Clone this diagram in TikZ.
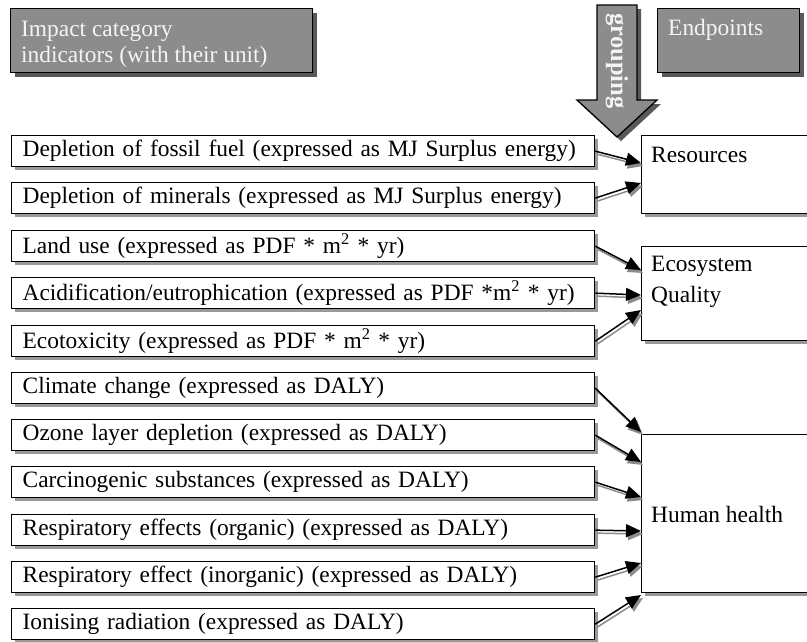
\documentclass[tikz,border=0pt]{standalone}
\usepackage{fontspec}
\setmainfont{Liberation Serif}
\usetikzlibrary{arrows.meta,shadows,calc}

\definecolor{headfill}{HTML}{8C8C8C}
\definecolor{headtext}{HTML}{F4F4F4}

\tikzset{
  boxshadow/.style={drop shadow={shadow xshift=3pt,shadow yshift=-3pt,fill=black!40,opacity=1}},
  headshadow/.style={drop shadow={shadow xshift=4pt,shadow yshift=-4pt,fill=black!65,opacity=1}},
  txt/.style={font=\fontsize{23.4}{26}\selectfont},
  indbox/.style={draw,line width=1.3pt,fill=white,boxshadow,anchor=north west,
    minimum width=583pt,minimum height=31pt,text width=561pt,align=left,
    inner xsep=11pt,inner ysep=0pt,txt},
  endbox/.style={draw,line width=1.3pt,fill=white,boxshadow,anchor=north west,
    minimum width=220pt,inner sep=0pt},
  headbox/.style={draw,line width=1.3pt,fill=headfill,headshadow,anchor=north west,inner sep=0pt},
  headlabel/.style={txt,text=headtext,inner sep=0pt,align=left},
  endlabel/.style={font=\fontsize{23.4}{31}\selectfont,inner sep=0pt,align=left},
  conn/.style={draw=black,line width=1.5pt,-{Triangle[length=15pt,width=13pt]}},
  connshade/.style={draw=black!45,line width=1.5pt,-{Triangle[length=15pt,width=13pt]},
    fill=black!45,transform canvas={shift={(2pt,-3pt)}}},
}

\begin{document}
\begin{tikzpicture}[x=1pt,y=-1pt]
\useasboundingbox (0,0) rectangle (807,641);
\clip (0,0) rectangle (807,641);

% header boxes
\node (hdind) [headbox,minimum width=302pt,minimum height=64pt] at (10,8) {};
\node (hdindtxt) [headlabel,anchor=north west] at (21,21) {Impact category\\indicators (with their unit)};
\node (hdend) [headbox,minimum width=142pt,minimum height=64pt] at (657,8) {};
\node (hdendtxt) [headlabel,anchor=base west] at (668,35) {Endpoints};

% grouping arrow
\path[fill=headfill,draw=black,line width=1.3pt,headshadow]
  (597,5) -- (637,5) -- (637,100) -- (657,100) -- (617,137) -- (577,100) -- (597,100) -- cycle;
\node (grp) [text=headtext,font=\fontsize{24.5}{26}\selectfont\bfseries,rotate=-90,inner sep=0pt] at (617,61) {grouping};

% endpoint boxes
\node (res) [endbox,minimum height=78pt] at (641,135) {};
\node (restxt) [endlabel,anchor=base west] at (651,162) {Resources};
\node (eco) [endbox,minimum height=94pt] at (641,246) {};
\node (ecotxt) [endlabel,anchor=north west] at (651,256) {Ecosystem\\Quality};
\node (hh) [endbox,minimum height=158pt] at (641,434) {};
\node (hhtxt) [endlabel,anchor=west] at (651,514) {Human health};

% impact category indicators
\node (b1)  [indbox] at (11,135) {Depletion of fossil fuel (expressed as MJ Surplus energy)};
\node (b2)  [indbox] at (11,182) {Depletion of minerals (expressed as MJ Surplus energy)};
\node (b3)  [indbox] at (11,230) {Land use (expressed as PDF * m\textsuperscript{2} * yr)};
\node (b4)  [indbox] at (11,277) {Acidification/eutrophication (expressed as PDF *m\textsuperscript{2} * yr)};
\node (b5)  [indbox] at (11,325) {Ecotoxicity (expressed as PDF * m\textsuperscript{2} * yr)};
\node (b6)  [indbox] at (11,372) {Climate change (expressed as DALY)};
\node (b7)  [indbox] at (11,419) {Ozone layer depletion (expressed as DALY)};
\node (b8)  [indbox] at (11,466) {Carcinogenic substances (expressed as DALY)};
\node (b9)  [indbox] at (11,514) {Respiratory effects (organic) (expressed as DALY)};
\node (b10) [indbox] at (11,561) {Respiratory effect (inorganic) (expressed as DALY)};
\node (b11) [indbox] at (11,608) {Ionising radiation (expressed as DALY)};

% arrow end points on the endpoint boxes
\coordinate (t1)  at ($(res.north west)+(0,28)$);
\coordinate (t2)  at ($(res.north west)+(0,48)$);
\coordinate (t3)  at ($(eco.north west)+(0,24)$);
\coordinate (t4)  at ($(eco.north west)+(0,49)$);
\coordinate (t5)  at ($(eco.north west)+(0,64)$);
\coordinate (t6)  at ($(hh.north west)+(0,-2)$);
\coordinate (t7)  at ($(hh.north west)+(0,28)$);
\coordinate (t8)  at ($(hh.north west)+(0,63)$);
\coordinate (t9)  at ($(hh.north west)+(0,97)$);
\coordinate (t10) at ($(hh.north west)+(0,129)$);
\coordinate (t11) at ($(hh.north west)+(0,161)$);

% connectors with their shadows
\foreach \i in {1,...,11}{
  \draw[connshade] (b\i.east) -- (t\i);
  \draw[conn] (b\i.east) -- (t\i);
}
\end{tikzpicture}
\end{document}
